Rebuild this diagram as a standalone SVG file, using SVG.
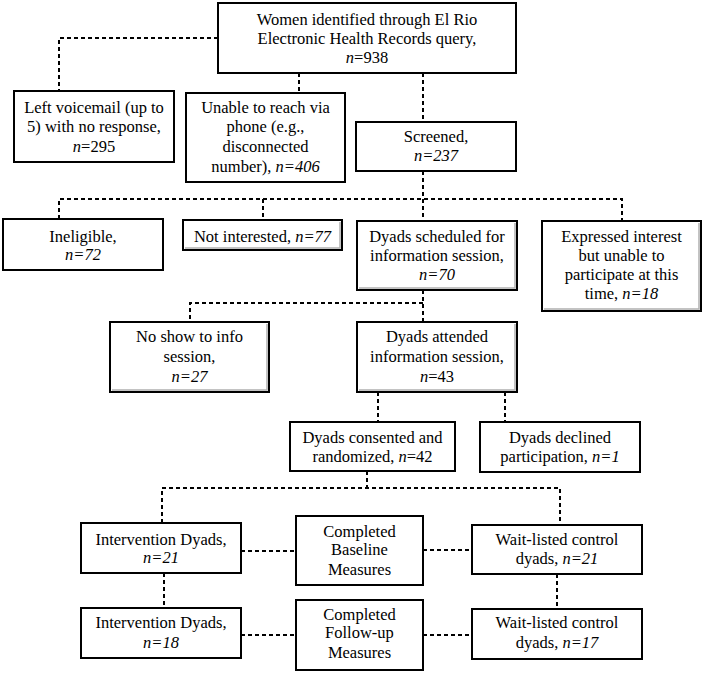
<svg xmlns="http://www.w3.org/2000/svg" width="704" height="673" viewBox="0 0 704 673">
<style>
.box{fill:#fff;stroke:#000;stroke-width:2}
.bev{fill:none;stroke:#b0b0b0;stroke-width:1.5}
.c{fill:none;stroke:#000;stroke-width:2;stroke-dasharray:4 3}
.t text{text-anchor:middle}
.i{font-style:italic}
</style>
<rect width="704" height="673" fill="#fff"/>
<g id="connectors">
<path class="c" d="M218 38H59V91"/>
<path class="c" d="M299 73V93"/>
<path class="c" d="M423 73V122"/>
<path class="c" d="M423 171V221"/>
<path class="c" d="M59 219V199H622V221"/>
<path class="c" d="M263 199V220"/>
<path class="c" d="M423 290V322"/>
<path class="c" d="M423 303H190V322"/>
<path class="c" d="M378 392V422"/>
<path class="c" d="M505 392V422"/>
<path class="c" d="M367 471V488"/>
<path class="c" d="M162 523V488H560V525"/>
<path class="c" d="M241 551H296"/>
<path class="c" d="M423 550H472"/>
<path class="c" d="M164 573V608"/>
<path class="c" d="M557 574V609"/>
<path class="c" d="M241 635H296"/>
<path class="c" d="M423 635H472"/>
</g>
<g class="t" font-family="'Liberation Serif', 'Times New Roman', 'DejaVu Serif', serif" font-size="16.5" fill="#000">
<g id="n-women">
<rect class="box" x="218" y="3" width="298" height="70"/>
<text x="367" y="25">Women identified through El Rio</text>
<text x="367" y="44">Electronic Health Records query,</text>
<text x="367" y="63"><tspan class="i">n</tspan>=938</text>
</g>
<g id="n-voicemail">
<rect class="box" x="14" y="91" width="160" height="71"/>
<text x="94" y="113">Left voicemail (up to</text>
<text x="94" y="132">5) with no response,</text>
<text x="94" y="152"><tspan class="i">n</tspan>=295</text>
</g>
<g id="n-unable">
<rect class="box" x="186" y="93" width="159" height="89"/>
<text x="265.5" y="113">Unable to reach via</text>
<text x="265.5" y="132">phone (e.g.,</text>
<text x="265.5" y="152">disconnected</text>
<text x="265.5" y="172">number), <tspan class="i">n=406</tspan></text>
</g>
<g id="n-screened">
<rect class="box" x="356" y="122" width="160" height="49"/>
<text x="436" y="142">Screened,</text>
<text x="436" y="161" class="i">n=237</text>
</g>
<g id="n-ineligible">
<rect class="box" x="3" y="219" width="160" height="51"/>
<text x="83" y="242">Ineligible,</text>
<text x="83" y="260" class="i">n=72</text>
</g>
<g id="n-notinterested">
<rect class="box" x="183" y="220" width="159" height="30"/>
<path class="bev" d="M185 248H340V222"/>
<text x="262.5" y="242">Not interested, <tspan class="i">n=77</tspan></text>
</g>
<g id="n-scheduled">
<rect class="box" x="357" y="221" width="160" height="69"/>
<path class="bev" d="M359 288H515V223"/>
<text x="437" y="242">Dyads scheduled for</text>
<text x="437" y="261">information session,</text>
<text x="437" y="280" class="i">n=70</text>
</g>
<g id="n-expressed">
<rect class="box" x="542" y="221" width="159" height="90"/>
<path class="bev" d="M544 309H699V223"/>
<text x="621.5" y="242">Expressed interest</text>
<text x="621.5" y="261">but unable to</text>
<text x="621.5" y="280">participate at this</text>
<text x="621.5" y="299">time, <tspan class="i">n=18</tspan></text>
</g>
<g id="n-noshow">
<rect class="box" x="110" y="322" width="159" height="70"/>
<path class="bev" d="M112 390H267V324"/>
<text x="189.5" y="342">No show to info</text>
<text x="189.5" y="362">session,</text>
<text x="189.5" y="382" class="i">n=27</text>
</g>
<g id="n-attended">
<rect class="box" x="357" y="322" width="160" height="70"/>
<path class="bev" d="M359 390H515V324"/>
<text x="437" y="342">Dyads attended</text>
<text x="437" y="362">information session,</text>
<text x="437" y="382"><tspan class="i">n</tspan>=43</text>
</g>
<g id="n-consented">
<rect class="box" x="290" y="422" width="165" height="49"/>
<text x="372.5" y="443">Dyads consented and</text>
<text x="372.5" y="462">randomized, <tspan class="i">n</tspan>=42</text>
</g>
<g id="n-declined">
<rect class="box" x="480" y="422" width="160" height="50"/>
<text x="560" y="443">Dyads declined</text>
<text x="560" y="462">participation, <tspan class="i">n=1</tspan></text>
</g>
<g id="n-int1">
<rect class="box" x="81" y="523" width="160" height="50"/>
<text x="161" y="545">Intervention Dyads,</text>
<text x="161" y="563" class="i">n=21</text>
</g>
<g id="n-baseline">
<rect class="box" x="296" y="516" width="127" height="69"/>
<text x="359.5" y="537">Completed</text>
<text x="359.5" y="555">Baseline</text>
<text x="359.5" y="575">Measures</text>
</g>
<g id="n-wait1">
<rect class="box" x="472" y="525" width="170" height="49"/>
<text x="557" y="545">Wait-listed control</text>
<text x="557" y="564">dyads, <tspan class="i">n=21</tspan></text>
</g>
<g id="n-int2">
<rect class="box" x="81" y="608" width="160" height="50"/>
<text x="161" y="628">Intervention Dyads,</text>
<text x="161" y="648" class="i">n=18</text>
</g>
<g id="n-followup">
<rect class="box" x="296" y="600" width="127" height="70"/>
<text x="359.5" y="620">Completed</text>
<text x="359.5" y="638">Follow-up</text>
<text x="359.5" y="658">Measures</text>
</g>
<g id="n-wait2">
<rect class="box" x="472" y="609" width="170" height="50"/>
<text x="557" y="628">Wait-listed control</text>
<text x="557" y="648">dyads, <tspan class="i">n=17</tspan></text>
</g>
</g>
</svg>
